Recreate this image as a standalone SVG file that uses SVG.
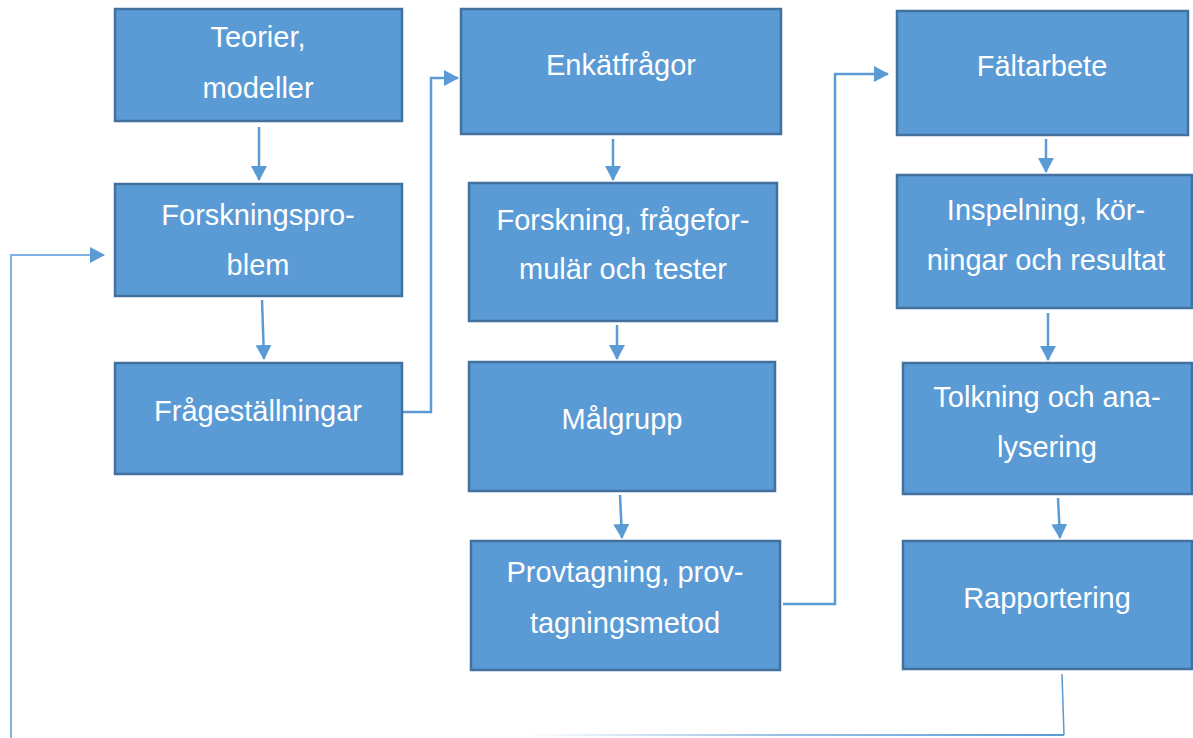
<svg xmlns="http://www.w3.org/2000/svg" width="1193" height="738" viewBox="0 0 1193 738">
<style>
.box{fill:#5b9bd5;stroke:#41719c;stroke-width:2.5}
.t{font-family:"Liberation Sans",Arial,sans-serif;font-size:29px;fill:#ffffff;text-anchor:middle}
.c{fill:none;stroke:#5b9bd5;stroke-width:2.5}
.arr{marker-end:url(#ah)}
</style>
<defs>
<marker id="ah" markerUnits="userSpaceOnUse" markerWidth="15" markerHeight="16" refX="14" refY="8" orient="auto">
<path d="M0,0 L15,8 L0,16 z" fill="#5b9bd5"/>
</marker>
<linearGradient id="fade" x1="525" y1="0" x2="1065" y2="0" gradientUnits="userSpaceOnUse">
<stop offset="0" stop-color="#5b9bd5" stop-opacity="0"/>
<stop offset="0.45" stop-color="#5b9bd5" stop-opacity="0.6"/>
<stop offset="1" stop-color="#5b9bd5" stop-opacity="1"/>
</linearGradient>
</defs>
<rect width="1193" height="738" fill="#ffffff"/>
<g id="connectors">
<line class="c arr" x1="259" y1="127" x2="259" y2="180"/>
<line class="c arr" x1="262" y1="300" x2="264" y2="359"/>
<polyline class="c arr" points="403,412 431,412 431,78 458,78"/>
<line class="c arr" x1="613" y1="139" x2="613" y2="180"/>
<line class="c arr" x1="617" y1="325" x2="617" y2="359"/>
<line class="c arr" x1="620" y1="495" x2="622" y2="538"/>
<polyline class="c arr" points="783,604 835,604 835,74 888,74"/>
<line class="c arr" x1="1046" y1="139" x2="1046" y2="172"/>
<line class="c arr" x1="1048" y1="313" x2="1048" y2="360"/>
<line class="c arr" x1="1058" y1="498" x2="1060" y2="538"/>
<polyline points="1062,674 1064,735" fill="none" stroke="#5b9bd5" stroke-width="1.5"/>
<line x1="525" y1="735" x2="1064" y2="735" stroke="url(#fade)" stroke-width="2"/>
<polyline class="arr" points="11,738 11,255 104,255" fill="none" stroke="#7fb2e0" stroke-width="2"/>
</g>
<g id="n1"><rect class="box" x="115" y="9" width="287" height="112"/><text class="t" x="258" y="47">Teorier,</text><text class="t" x="258" y="98">modeller</text></g>
<g id="n2"><rect class="box" x="115" y="184" width="287" height="112"/><text class="t" x="258" y="225">Forskningspro-</text><text class="t" x="258" y="275">blem</text></g>
<g id="n3"><rect class="box" x="115" y="363" width="287" height="111"/><text class="t" x="258" y="421">Frågeställningar</text></g>
<g id="n4"><rect class="box" x="461" y="9" width="320" height="125"/><text class="t" x="621" y="75">Enkätfrågor</text></g>
<g id="n5"><rect class="box" x="469" y="183" width="308" height="138"/><text class="t" x="623" y="230">Forskning, frågefor-</text><text class="t" x="623" y="279">mulär och tester</text></g>
<g id="n6"><rect class="box" x="469" y="362" width="306" height="129"/><text class="t" x="622" y="429">Målgrupp</text></g>
<g id="n7"><rect class="box" x="471" y="541" width="309" height="129"/><text class="t" x="625" y="582">Provtagning, prov-</text><text class="t" x="625" y="633">tagningsmetod</text></g>
<g id="n8"><rect class="box" x="897" y="11" width="291" height="124"/><text class="t" x="1042" y="76">Fältarbete</text></g>
<g id="n9"><rect class="box" x="897" y="175" width="295" height="133"/><text class="t" x="1046" y="220">Inspelning, kör-</text><text class="t" x="1046" y="270">ningar och resultat</text></g>
<g id="n10"><rect class="box" x="903" y="363" width="289" height="131"/><text class="t" x="1047" y="407">Tolkning och ana-</text><text class="t" x="1047" y="457">lysering</text></g>
<g id="n11"><rect class="box" x="903" y="541" width="289" height="128"/><text class="t" x="1047" y="608">Rapportering</text></g>
</svg>
